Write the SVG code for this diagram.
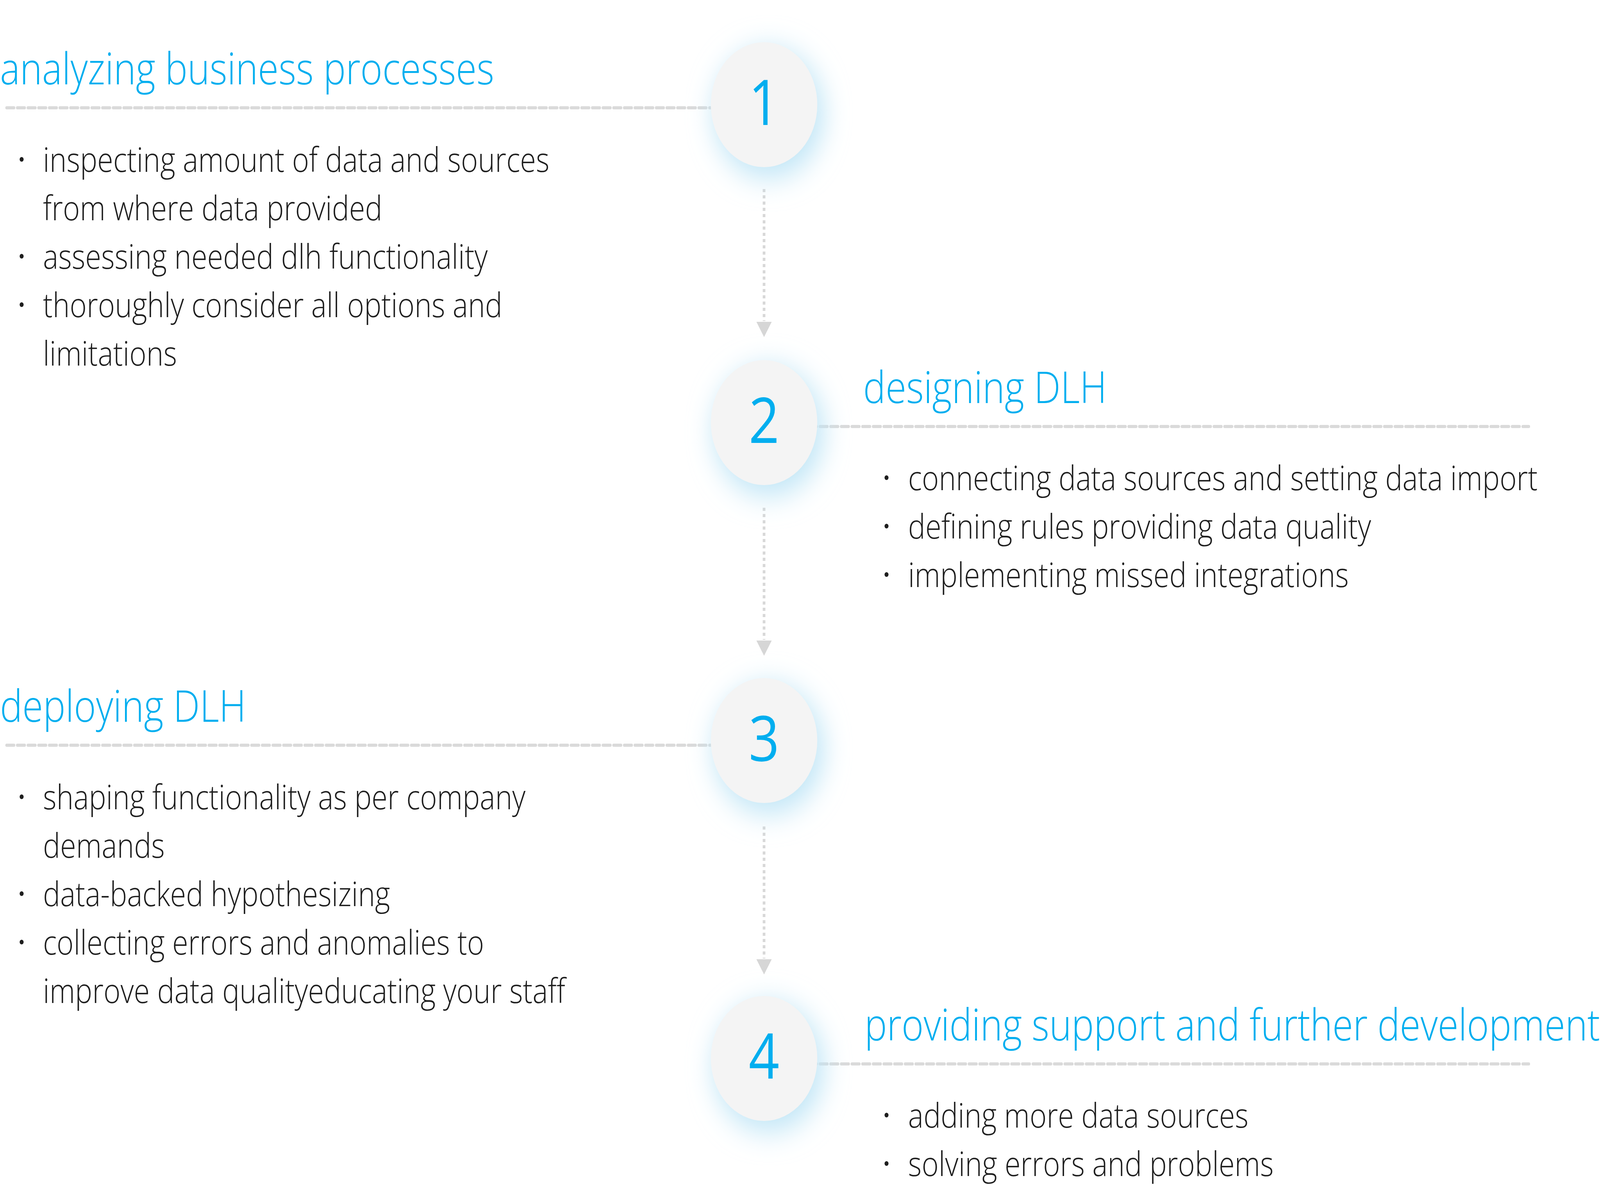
<svg xmlns="http://www.w3.org/2000/svg" width="4808" height="3034" viewBox="0 0 4808 3034" preserveAspectRatio="none">
<style>
svg{width:100vw;height:100vh}
.head{font-family:"Open Sans","Liberation Sans",sans-serif;font-weight:300;font-size:113px;fill:#00aeef}
.body{font-family:"Open Sans","Liberation Sans",sans-serif;font-weight:300;font-size:87px;fill:#1e1e1e}
.num{font-family:"Open Sans","Liberation Sans",sans-serif;font-weight:400;font-size:161px;fill:#00aeef;text-anchor:middle}
.hdash{stroke:#dadada;stroke-width:8;stroke-dasharray:22 10;stroke-linecap:round;fill:none}
.vdash{stroke:#d8d8d8;stroke-width:8;stroke-dasharray:8 8;fill:none}
.arrowhead{fill:#d6d6d6}
.disc{fill:#f4f4f4}
.glowc{fill:#bfe5f6;filter:url(#glow)}
.dot{fill:#1e1e1e}
</style>
<defs>
<filter id="glow" x="-80%" y="-80%" width="260%" height="260%">
<feGaussianBlur stdDeviation="38"/>
</filter>
</defs>
<rect width="4808" height="3034" fill="#ffffff"/>

<g id="connectors">
<line class="hdash" x1="20" y1="276" x2="2200" y2="276"/>
<line class="hdash" x1="2400" y1="1092" x2="4594" y2="1092"/>
<line class="hdash" x1="20" y1="1908" x2="2200" y2="1908"/>
<line class="hdash" x1="2400" y1="2724" x2="4594" y2="2724"/>
<path class="vdash" d="M2296 484 V822"/>
<path class="arrowhead" d="M2273 824 L2319 824 L2296 863 Z"/>
<path class="vdash" d="M2296 1300 V1638"/>
<path class="arrowhead" d="M2273 1640 L2319 1640 L2296 1679 Z"/>
<path class="vdash" d="M2296 2116 V2454"/>
<path class="arrowhead" d="M2273 2456 L2319 2456 L2296 2495 Z"/>
</g>

<g id="step1">
<circle class="glowc" cx="2310" cy="290" r="165"/>
<circle class="disc" cx="2296" cy="268" r="160"/>
<text class="num" x="2296" y="320">1</text>
<text class="head" x="0" y="216">analyzing business processes</text>
<circle class="dot" cx="65" cy="408" r="6"/>
<text class="body" x="129" y="440">inspecting amount of data and sources</text>
<text class="body" x="129" y="564">from where data provided</text>
<circle class="dot" cx="65" cy="656" r="6"/>
<text class="body" x="129" y="688">assessing needed dlh functionality</text>
<circle class="dot" cx="65" cy="780" r="6"/>
<text class="body" x="129" y="812">thoroughly consider all options and</text>
<text class="body" x="129" y="936">limitations</text>
</g>

<g id="step2">
<circle class="glowc" cx="2310" cy="1104" r="165"/>
<circle class="disc" cx="2296" cy="1082" r="160"/>
<text class="num" x="2296" y="1134">2</text>
<text class="head" x="2594" y="1032">designing DLH</text>
<circle class="dot" cx="2664" cy="1223" r="6"/>
<text class="body" x="2729" y="1255">connecting data sources and setting data import</text>
<circle class="dot" cx="2664" cy="1347" r="6"/>
<text class="body" x="2729" y="1379">defining rules providing data quality</text>
<circle class="dot" cx="2664" cy="1471" r="6"/>
<text class="body" x="2729" y="1503">implementing missed integrations</text>
</g>

<g id="step3">
<circle class="glowc" cx="2310" cy="1918" r="165"/>
<circle class="disc" cx="2296" cy="1896" r="160"/>
<text class="num" x="2296" y="1948">3</text>
<text class="head" x="0" y="1848">deploying DLH</text>
<circle class="dot" cx="65" cy="2040" r="6"/>
<text class="body" x="129" y="2072">shaping functionality as per company</text>
<text class="body" x="129" y="2196">demands</text>
<circle class="dot" cx="65" cy="2288" r="6"/>
<text class="body" x="129" y="2320">data-backed hypothesizing</text>
<circle class="dot" cx="65" cy="2412" r="6"/>
<text class="body" x="129" y="2444">collecting errors and anomalies to</text>
<text class="body" x="129" y="2568">improve data qualityeducating your staff</text>
</g>

<g id="step4">
<circle class="glowc" cx="2310" cy="2732" r="165"/>
<circle class="disc" cx="2296" cy="2710" r="160"/>
<text class="num" x="2296" y="2762">4</text>
<text class="head" x="2598" y="2664">providing support and further development</text>
<circle class="dot" cx="2664" cy="2855" r="6"/>
<text class="body" x="2729" y="2887">adding more data sources</text>
<circle class="dot" cx="2664" cy="2979" r="6"/>
<text class="body" x="2729" y="3011">solving errors and problems</text>
</g>
</svg>
